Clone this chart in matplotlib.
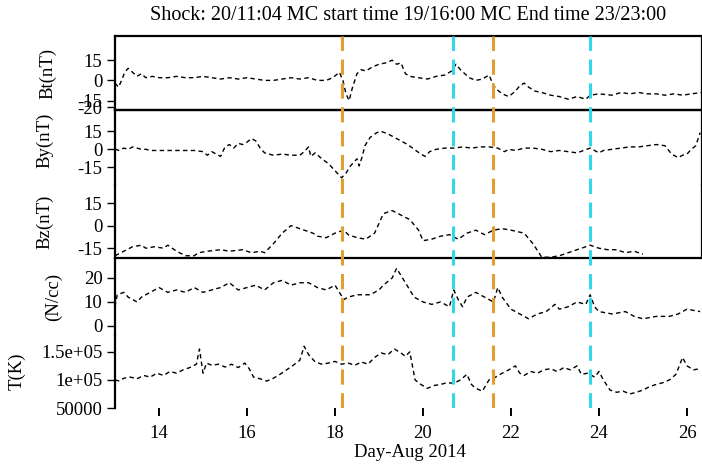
import numpy as np
import matplotlib
matplotlib.use("Agg")
import matplotlib.pyplot as plt

plt.rcParams['font.family'] = ['Liberation Serif', 'DejaVu Serif']

title = "Shock: 20/11:04 MC start time 19/16:00 MC End time 23/23:00"
xlabel = "Day-Aug 2014"
x_ticks = [14, 16, 18, 20, 22, 24, 26]

# Bt (nT)
bt_t = [13.00, 13.08, 13.15, 13.22, 13.30, 13.40, 13.50, 13.60, 13.70, 13.85, 14.00, 14.20, 14.40, 14.60,
        14.80, 15.00, 15.20, 15.40, 15.60, 15.80, 16.00, 16.20, 16.40, 16.60, 16.80, 17.00, 17.20, 17.40,
        17.60, 17.80, 17.95, 18.10, 18.18, 18.25, 18.32, 18.40, 18.50, 18.60, 18.70, 18.85, 19.00, 19.15,
        19.30, 19.40, 19.50, 19.60, 19.70, 19.90, 20.10, 20.30, 20.50, 20.65, 20.75, 20.85, 20.95, 21.05,
        21.20, 21.35, 21.50, 21.58, 21.65, 21.80, 21.95, 22.10, 22.20, 22.30, 22.40, 22.55, 22.70, 22.90,
        23.10, 23.30, 23.50, 23.70, 23.80, 24.00, 24.30, 24.50, 24.70, 24.90, 25.10, 25.30, 25.50, 25.70,
        25.90, 26.10, 26.33]
bt_v = [-2, -5, 0, 6, 9, 6, 3, 5, 2, 3, 2, 2, 3, 2,
        2, 3, 2, 1, 2, 1, 2, 1, 0, 0, 1, 2, 1, 2,
        0, 0, 2, 6, 0, -10, -15, -5, 5, 8, 7, 10, 12, 13,
        15, 12, 13, 5, 3, 2, 1, 3, 4, 7, 12, 8, 5, 2,
        0, 1, 4, -2, -6, -10, -12, -8, -4, -2, -5, -8, -9, -11,
        -12, -14, -12, -14, -11, -10, -11, -9, -10, -9, -10, -10, -11, -10,
        -11, -10, -9]

# By (nT)
by_t = [13.00, 13.10, 13.20, 13.30, 13.40, 13.50, 13.60, 13.70, 13.80, 14.00, 14.20, 14.40, 14.60, 14.80,
        15.00, 15.10, 15.20, 15.30, 15.40, 15.50, 15.60, 15.70, 15.80, 15.90, 16.00, 16.10, 16.20, 16.30,
        16.40, 16.60, 16.80, 17.00, 17.20, 17.30, 17.40, 17.45, 17.55, 17.70, 17.85, 18.00, 18.15, 18.25,
        18.35, 18.45, 18.50, 18.55, 18.62, 18.68, 18.80, 18.95, 19.05, 19.20, 19.35, 19.50, 19.65, 19.80,
        19.95, 20.05, 20.15, 20.30, 20.50, 20.70, 20.90, 21.10, 21.30, 21.50, 21.70, 21.85, 21.95, 22.10,
        22.30, 22.50, 22.70, 22.90, 23.10, 23.30, 23.50, 23.65, 23.80, 23.90, 24.00, 24.10, 24.30, 24.50,
        24.70, 24.90, 25.10, 25.30, 25.50, 25.65, 25.80, 25.90, 26.00, 26.10, 26.20, 26.30]
by_v = [0, -1, 1, 0, 2, 1, 0, 0, -1, -1, -1, -1, -1, -1,
        -2, -5, -2, -4, -6, 2, 4, 1, 5, 4, 6, 9, 7, 1,
        -3, -5, -4, -5, -5, -2, 2, -6, -3, -8, -12, -18, -24, -20,
        -14, -10, -8, -14, -6, 3, 10, 14, 15, 13, 10, 7, 4, 0,
        -4, -6, -2, 0, 1, 1, 2, 1, 2, 2, 1, -2, 0, -1,
        1, 1, 0, -2, -1, -2, -3, -1, 1, -1, -3, -1, 0, 1,
        2, 2, 3, 4, 3, -4, -7, -5, -4, 0, 3, 14]

# Bz (nT)
bz_t = [13.00, 13.20, 13.40, 13.60, 13.70, 13.90, 14.10, 14.20, 14.40, 14.60, 14.80, 14.90, 15.10, 15.40,
        15.60, 15.90, 16.10, 16.30, 16.40, 16.60, 16.80, 17.00, 17.10, 17.30, 17.50, 17.60, 17.80, 18.00,
        18.20, 18.30, 18.50, 18.70, 18.90, 19.10, 19.30, 19.50, 19.70, 19.90, 20.00, 20.20, 20.40, 20.60,
        20.80, 21.00, 21.20, 21.40, 21.60, 21.80, 22.00, 22.30, 22.50, 22.70, 22.90, 23.10, 23.30, 23.50,
        23.80, 24.00, 24.20, 24.40, 24.60, 24.80, 25.00]
bz_v = [-20, -17, -14, -13, -15, -14, -15, -13, -17, -20, -20, -18, -17, -16,
        -17, -16, -18, -17, -18, -12, -5, 0, -1, -3, -5, -7, -8, -5,
        -3, -6, -8, -9, -5, 8, 10, 7, 4, -3, -10, -9, -7, -6,
        -9, -5, -3, -6, -3, -2, -3, -5, -12, -21, -21, -20, -18, -16,
        -13, -15, -16, -16, -18, -17, -19]

# N (/cc)
n_t = [13.00, 13.05, 13.20, 13.30, 13.50, 13.60, 13.80, 14.00, 14.20, 14.40, 14.60, 14.80, 15.00, 15.20,
       15.40, 15.60, 15.80, 16.00, 16.20, 16.40, 16.60, 16.80, 17.00, 17.20, 17.40, 17.60, 17.80, 18.00,
       18.10, 18.20, 18.30, 18.50, 18.80, 19.00, 19.10, 19.30, 19.40, 19.60, 19.80, 20.00, 20.20, 20.40,
       20.60, 20.70, 20.80, 20.90, 21.00, 21.20, 21.40, 21.60, 21.70, 21.80, 22.00, 22.20, 22.40, 22.60,
       22.80, 23.00, 23.10, 23.30, 23.50, 23.70, 23.80, 23.90, 24.00, 24.30, 24.60, 24.80, 25.00, 25.30,
       25.60, 25.80, 26.00, 26.30]
n_v = [8, 13, 14, 12, 10, 12, 14, 16, 14, 15, 14, 16, 14, 15,
       16, 18, 15, 16, 17, 15, 18, 19, 17, 18, 18, 16, 15, 17,
       14, 11, 12, 13, 13, 15, 17, 20, 24, 18, 12, 10, 9, 10,
       8, 15, 11, 8, 12, 14, 12, 10, 16, 12, 7, 5, 3, 5,
       6, 9, 7, 8, 10, 9, 13, 8, 6, 5, 6, 4, 3, 4,
       4, 5, 7, 6]

# T (K, in thousands)
t_t = [13.00, 13.10, 13.20, 13.35, 13.50, 13.65, 13.80, 13.95, 14.10, 14.25, 14.40, 14.55, 14.70, 14.85,
       14.92, 15.00, 15.08, 15.20, 15.35, 15.50, 15.65, 15.80, 15.95, 16.05, 16.15, 16.30, 16.45, 16.60,
       16.75, 16.90, 17.05, 17.20, 17.30, 17.40, 17.55, 17.70, 17.85, 18.00, 18.15, 18.30, 18.45, 18.60,
       18.75, 18.90, 19.05, 19.20, 19.35, 19.50, 19.60, 19.70, 19.76, 19.82, 19.95, 20.10, 20.25, 20.40,
       20.55, 20.70, 20.85, 21.00, 21.10, 21.20, 21.35, 21.50, 21.65, 21.80, 21.95, 22.10, 22.20, 22.30,
       22.45, 22.60, 22.75, 22.90, 23.05, 23.20, 23.35, 23.50, 23.60, 23.75, 23.90, 24.00, 24.10, 24.25,
       24.40, 24.55, 24.70, 24.85, 25.00, 25.15, 25.30, 25.45, 25.60, 25.75, 25.90, 26.00, 26.15, 26.30]
t_kv = [100, 98, 103, 105, 102, 108, 105, 112, 108, 115, 112, 118, 122, 128,
        155, 112, 130, 126, 128, 123, 128, 122, 130, 120, 105, 102, 98, 103,
        110, 118, 126, 135, 160, 145, 132, 128, 130, 133, 128, 130, 126, 132,
        128, 140, 148, 145, 155, 148, 142, 150, 125, 100, 92, 85, 90, 92,
        95, 94, 100, 110, 92, 85, 80, 100, 105, 112, 118, 125, 112, 108,
        115, 112, 118, 120, 115, 122, 118, 125, 110, 112, 105, 115, 100, 82,
        78, 80, 75, 78, 82, 88, 92, 95, 100, 110, 140, 125, 118, 120]

orange_lines = [18.15, 21.58]
cyan_lines = [20.68, 23.80]

W_PX, H_PX = 702, 465
fig = plt.figure(figsize=(W_PX / 100, H_PX / 100), dpi=100)

def rect(top_px, bot_px, left_px=115, right_px=701.5):
    return [left_px / W_PX, 1 - bot_px / H_PX, (right_px - left_px) / W_PX, (bot_px - top_px) / H_PX]

FS = 13.5
xlim = (13.0, 26.33)
line_kw = dict(color='black', lw=1.0, linestyle=(0, (3.2, 2.4)))

def style(ax, spines, ylim, ticks, labels, ylabel, labx, laby=0.5):
    ax.set_xlim(*xlim)
    ax.set_ylim(*ylim)
    for s in ['top', 'bottom', 'left', 'right']:
        ax.spines[s].set_visible(s in spines)
        ax.spines[s].set_linewidth(1.6)
    ax.set_yticks(ticks)
    ax.set_yticklabels(labels)
    ax.tick_params(axis='y', direction='out', length=6, width=1.0, labelsize=FS, pad=3)
    ax.tick_params(axis='x', bottom=False, labelbottom=False)
    ax.set_ylabel(ylabel, fontsize=FS)
    ax.yaxis.set_label_coords(labx, laby)
    ax.patch.set_alpha(0)

ax1 = fig.add_axes(rect(36, 110))
ax1.plot(bt_t, bt_v, **line_kw)
style(ax1, ['top', 'bottom', 'left', 'right'], (-22, 33), [15, 0, -15, -20], ['15', '0', '-15', '-20'], 'Bt(nT)', -0.10)

ax2 = fig.add_axes(rect(110, 185))
ax2.plot(by_t, by_v, **line_kw)
style(ax2, ['top', 'left', 'right'], (-30, 33), [15, 0, -15], ['15', '0', '-15'], 'By(nT)', -0.105, 0.6)

ax3 = fig.add_axes(rect(185, 258))
ax3.plot(bz_t, bz_v, **line_kw)
style(ax3, ['bottom', 'left', 'right'], (-21.5, 27), [15, 0, -15], ['15', '0', '-15'], 'Bz(nT)', -0.105)

ax4 = fig.add_axes(rect(258, 335))
ax4.plot(n_t, n_v, **line_kw)
style(ax4, ['left'], (-3.75, 28.3), [20, 10, 0], ['20', '10', '0'], '(N/cc)', -0.09)

ax5 = fig.add_axes(rect(335, 408))
ax5.plot(t_t, np.array(t_kv) * 1000, **line_kw)
style(ax5, ['left'], (50000, 180000), [150000, 100000, 50000], ['1.5e+05', '1e+05', '50000'], 'T(K)', -0.152)
ax5.set_xticks(x_ticks)
ax5.set_xticklabels([str(v) for v in x_ticks])
ax5.tick_params(axis='x', bottom=True, labelbottom=True, direction='out', length=6, width=1.4,
                labelsize=FS, pad=6)

axo = fig.add_axes(rect(36, 408))
axo.set_xlim(*xlim)
axo.set_ylim(0, 1)
axo.axis('off')
for x in orange_lines:
    axo.axvline(x, color='#E29E30', lw=2.2, linestyle=(0, (5, 2.8)))
for x in cyan_lines:
    axo.axvline(x, color='#30D8EA', lw=2.2, linestyle=(0, (5, 2.8)))

fig.text(408 / W_PX, 1 - 15 / H_PX, title, ha='center', va='center', fontsize=14.5)
fig.text(410 / W_PX, 1 - 452 / H_PX, xlabel, ha='center', va='center', fontsize=FS)

fig.savefig('out.png', dpi=100)
